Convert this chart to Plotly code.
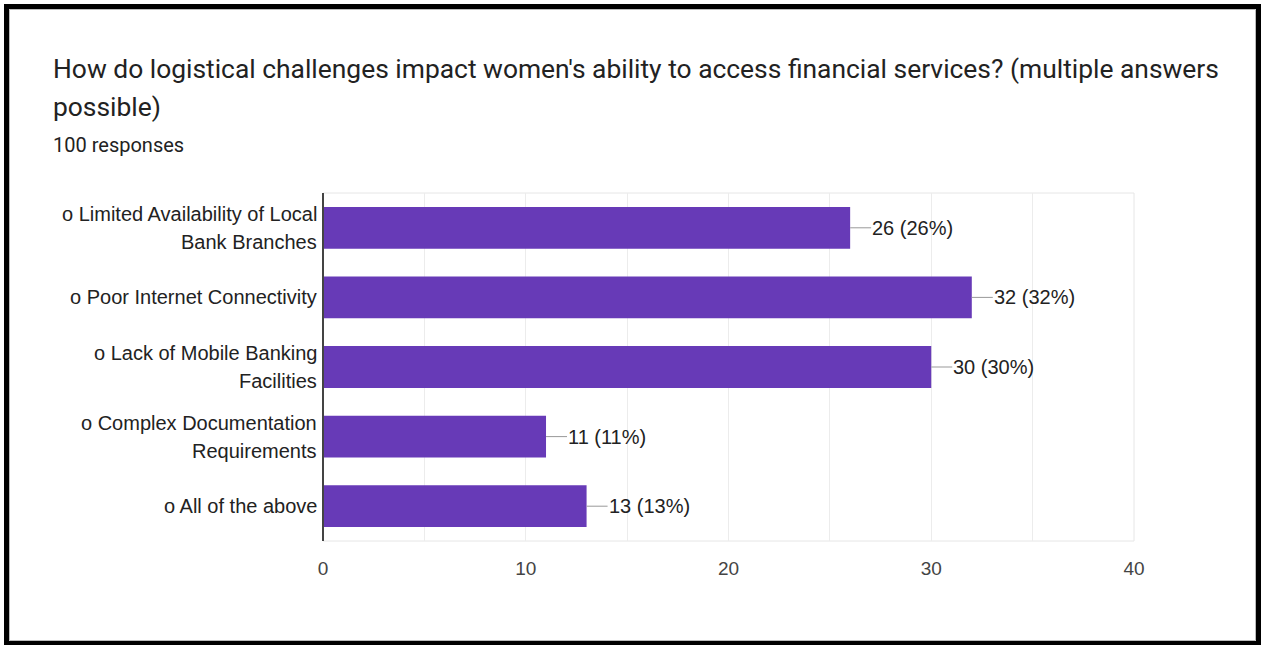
import plotly.graph_objects as go

categories = [
    "o Limited Availability of Local<br>Bank Branches",
    "o Poor Internet Connectivity",
    "o Lack of Mobile Banking<br>Facilities",
    "o Complex Documentation<br>Requirements",
    "o All of the above",
]
values = [26, 32, 30, 11, 13]
total_responses = 100
x_ticks = [0, 10, 20, 30, 40]

title_line1 = "How do logistical challenges impact women's ability to access financial services? (multiple answers"
title_line2 = "possible)"
subtitle = "100 responses"

W, H = 1263, 645
L, R, T, B = 323, 129, 193, 104
PW, PH = W - L - R, H - T - B

def px(x):
    return (x - L) / PW

def py(y):
    return (H - B - y) / PH

bar_color = "#673ab7"
text_color = "#222222"
ykeys = list(range(len(categories)))

fig = go.Figure()
fig.add_trace(go.Bar(
    x=values, y=ykeys, orientation="h", width=0.6,
    marker=dict(color=bar_color, line=dict(width=0)),
    hoverinfo="skip",
))

annotations = []
# data labels with leader lines
for i, v in enumerate(values):
    pct = round(100 * v / total_responses)
    annotations.append(dict(
        x=v, y=i, xref="x", yref="y", text=f"{v} ({pct}%)",
        showarrow=True, arrowhead=0, arrowwidth=1, arrowcolor="#999999",
        ax=21, ay=0, axref="pixel", ayref="pixel", xanchor="left", yanchor="middle",
        font=dict(family="Liberation Sans, Arial", size=20, color=text_color),
        borderpad=0,
    ))
# category labels (line by line)
for i, c in enumerate(categories):
    lines = c.split("<br>")
    n = len(lines)
    for j, ln in enumerate(lines):
        shift = (n - 1) * 14 - j * 28
        annotations.append(dict(
            x=0, y=i, xref="paper", yref="y", text=ln, showarrow=False,
            xanchor="right", yanchor="middle", xshift=-4, yshift=shift,
            font=dict(family="Liberation Sans, Arial", size=20, color=text_color),
        ))
# titles
annotations += [
    dict(x=px(51), y=py(69), xref="paper", yref="paper", text=title_line1, showarrow=False,
         xanchor="left", yanchor="middle", font=dict(family="Roboto", size=26.4, color=text_color)),
    dict(x=px(51), y=py(107), xref="paper", yref="paper", text=title_line2, showarrow=False,
         xanchor="left", yanchor="middle", font=dict(family="Roboto", size=26.4, color=text_color)),
    dict(x=px(51), y=py(145), xref="paper", yref="paper", text=subtitle, showarrow=False,
         xanchor="left", yanchor="middle", font=dict(family="Roboto", size=20, color=text_color)),
]

shapes = [
    # plot frame (light)
    dict(type="rect", xref="paper", yref="paper", x0=0, x1=1, y0=0, y1=1,
         line=dict(color="#e6e6e6", width=1), layer="below"),
    # y axis line
    dict(type="line", xref="paper", yref="paper", x0=0, x1=0, y0=0, y1=1,
         line=dict(color="#444444", width=2)),
    # outer black border
    dict(type="rect", xref="paper", yref="paper", x0=px(6.5), x1=px(1258.5), y0=py(643.5), y1=py(6.5),
         line=dict(color="black", width=5)),
    dict(type="rect", xref="paper", yref="paper", x0=px(9.5), x1=px(1255.5), y0=py(640.5), y1=py(9.5),
         line=dict(color="#bbbbbb", width=1)),
]

fig.update_layout(
    width=W, height=H, margin=dict(l=L, r=R, t=T, b=B, pad=0),
    paper_bgcolor="white", plot_bgcolor="white", showlegend=False,
    bargap=0.4, annotations=annotations, shapes=shapes,
    xaxis=dict(range=[0, 40], tickvals=x_ticks, showgrid=True, gridcolor="#ececec", gridwidth=1,
               minor=dict(dtick=5, showgrid=True, gridcolor="#ececec", gridwidth=1),
               zeroline=False, showline=False, ticks="", ticklen=0, ticklabelstandoff=14,
               tickfont=dict(family="Liberation Sans, Arial", size=19, color="#444444")),
    yaxis=dict(range=[4.5, -0.5], tickvals=ykeys, showticklabels=False, showgrid=False,
               zeroline=False, showline=False, ticks=""),
)
fig.write_html("out.html")
